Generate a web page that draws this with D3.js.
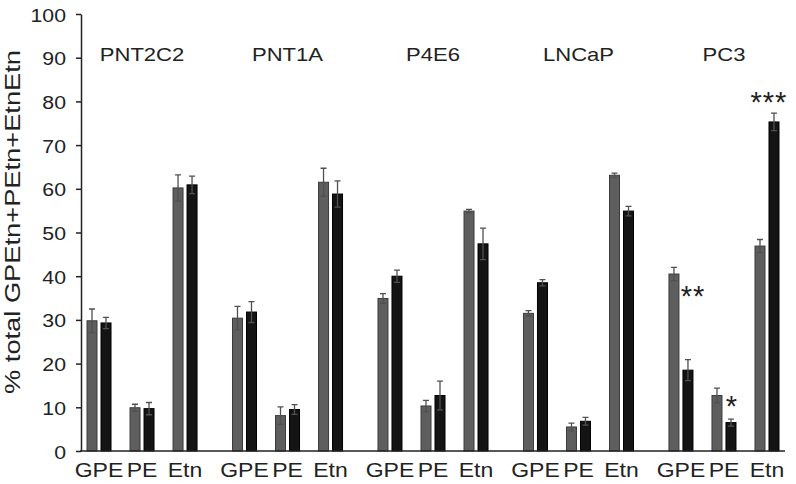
<!DOCTYPE html>
<html>
<head>
<meta charset="utf-8">
<script src="https://cdn.jsdelivr.net/npm/d3@7"></script>
<style>
	body { margin: 0; background: #fff; }
	text { font-family: "Liberation Sans", Arial, sans-serif; fill: #222; }
</style>
</head>
<body>
<div id="chart"></div>
<script>
// Chart data
const groups = ["PNT2C2", "PNT1A", "P4E6", "LNCaP", "PC3"];
const cats = ["GPE", "PE", "Etn"];
const yTicks = [0, 10, 20, 30, 40, 50, 60, 70, 80, 90, 100];

// gray bars (first series), one row per group, in order of cats
const grayVals = [
	[29.8, 9.9, 60.2],
	[30.4, 8.1, 61.5],
	[34.9, 10.3, 54.9],
	[31.5, 5.5, 63.1],
	[40.5, 12.7, 46.9]
];
const grayErr = [
	[2.7, 0.8, 3.0],
	[2.7, 2.0, 3.2],
	[1.1, 1.3, 0.4],
	[0.6, 0.9, 0.5],
	[1.5, 1.7, 1.5]
];
// black bars (second series)
const blackVals = [
	[29.3, 9.7, 60.9],
	[31.8, 9.5, 58.8],
	[40.0, 12.7, 47.4],
	[38.5, 6.8, 54.9],
	[18.5, 6.5, 75.3]
];
const blackErr = [
	[1.3, 1.4, 2.0],
	[2.4, 1.1, 3.0],
	[1.4, 3.3, 3.6],
	[0.7, 0.9, 1.1],
	[2.4, 0.8, 2.0]
];
// significance marks
const marks = [
	{ group: "PC3", cat: "GPE", text: "**", value: 36.8 },
	{ group: "PC3", cat: "PE", text: "*", value: 11.7 },
	{ group: "PC3", cat: "Etn", text: "***", value: 81.2 }
];

const width = 796;
const height = 484;

const svg = d3.select("#chart").append("svg")
	.attr("width", width)
	.attr("height", height);

// Scales
const y = d3.scaleLinear().domain([0, 100]).range([451, 14]);

const xGroup = d3.scaleBand()
	.domain(groups)
	.range([77.5, 788.5])
	.paddingInner(0.113)
	.paddingOuter(0);

const xCat = d3.scaleBand()
	.domain(cats)
	.range([0, xGroup.bandwidth()]);

const xSeries = d3.scaleBand()
	.domain(["gray", "black"])
	.range([xCat.bandwidth() / 2 - 12, xCat.bandwidth() / 2 + 12])
	.paddingInner(0.2857);

// flatten bars
let bars = [];
groups.forEach((g, gi) => {
	cats.forEach((c, ci) => {
		bars.push({ group: g, cat: c, series: "gray", value: grayVals[gi][ci], err: grayErr[gi][ci] });
		bars.push({ group: g, cat: c, series: "black", value: blackVals[gi][ci], err: blackErr[gi][ci] });
	});
});

const barX = d => xGroup(d.group) + xCat(d.cat) + xSeries(d.series);

// Bars
svg.append("g")
	.selectAll("rect")
	.data(bars)
	.join("rect")
	.attr("x", barX)
	.attr("width", xSeries.bandwidth())
	.attr("y", d => y(d.value))
	.attr("height", d => y(0) - y(d.value))
	.attr("fill", d => d.series === "gray" ? "#5e5e5e" : "#141414")
	.attr("stroke", d => d.series === "gray" ? "#3c3c3c" : "#000")
	.attr("stroke-width", 1);

// Error bars
const errG = svg.append("g")
	.attr("stroke", "#505050")
	.attr("stroke-width", 1.3)
	.attr("fill", "none");

errG.selectAll("path")
	.data(bars)
	.join("path")
	.attr("d", d => {
		const cx = barX(d) + xSeries.bandwidth() / 2;
		const t = y(d.value + d.err), b = y(d.value - d.err);
		return `M${cx - 3},${t}H${cx + 3}M${cx},${t}V${b}M${cx - 3},${b}H${cx + 3}`;
	});

// Y axis
const yAxis = d3.axisLeft(y)
	.tickValues(yTicks)
	.tickSize(5)
	.tickSizeOuter(0)
	.tickPadding(0);

const yAxisG = svg.append("g")
	.attr("transform", "translate(81,0)")
	.call(yAxis);

yAxisG.select(".domain").attr("stroke", "#222").attr("stroke-width", 1.5);
yAxisG.selectAll(".tick line").attr("stroke", "#222").attr("stroke-width", 1.5);
yAxisG.selectAll(".tick text")
	.attr("x", null)
	.attr("dy", null)
	.attr("transform", "translate(-15,7) scale(1.12,1)")
	.attr("text-anchor", "end")
	.style("font-size", "19px")
	.style("font-family", "'Liberation Sans', Arial, sans-serif")
	.attr("fill", "#222");

// X baseline
svg.append("line")
	.attr("x1", 80)
	.attr("x2", 785)
	.attr("y1", y(0))
	.attr("y2", y(0))
	.attr("stroke", "#222")
	.attr("stroke-width", 1.5);

// Category labels
let catLabels = [];
groups.forEach(g => cats.forEach(c => catLabels.push({ group: g, cat: c })));

svg.append("g")
	.selectAll("text")
	.data(catLabels)
	.join("text")
	.attr("transform", d => `translate(${xGroup(d.group) + xCat(d.cat) + xCat.bandwidth() / 2},477) scale(1.15,1)`)
	.attr("text-anchor", "middle")
	.style("font-size", "20px")
	.text(d => d.cat);

// Group labels
svg.append("g")
	.selectAll("text")
	.data(groups)
	.join("text")
	.attr("transform", d => `translate(${xGroup(d) + xGroup.bandwidth() / 2},61) scale(1.16,1)`)
	.attr("text-anchor", "middle")
	.style("font-size", "19px")
	.text(d => d);

// Significance marks
svg.append("g")
	.selectAll("text")
	.data(marks)
	.join("text")
	.attr("x", d => xGroup(d.group) + xCat(d.cat) + xSeries("black") + xSeries.bandwidth() / 2 + (d.text.length === 3 ? -5 : d.text.length === 2 ? 5 : 1))
	.attr("y", d => y(d.value) + 16)
	.attr("text-anchor", "middle")
	.attr("letter-spacing", 1)
	.style("font-size", "29px")
	.attr("fill", "#111")
	.text(d => d.text);

// Y axis title
svg.append("text")
	.attr("transform", "translate(20,222) rotate(-90)")
	.attr("text-anchor", "middle")
	.attr("textLength", 344)
	.attr("lengthAdjust", "spacingAndGlyphs")
	.style("font-size", "22px")
	.text("% total GPEtn+PEtn+EtnEtn");
</script>
</body>
</html>
